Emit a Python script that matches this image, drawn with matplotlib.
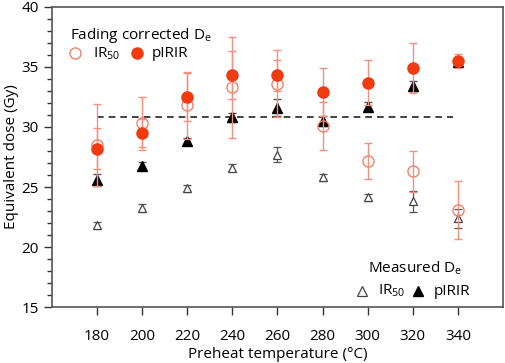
import matplotlib
matplotlib.use("Agg")
import matplotlib.pyplot as plt
from matplotlib.ticker import MultipleLocator

plt.rcParams['font.family'] = ['Open Sans', 'DejaVu Sans']
plt.rcParams['mathtext.default'] = 'regular'

temps = [180, 200, 220, 240, 260, 280, 300, 320, 340]
fc_ir50 = [28.5, 30.3, 31.8, 33.3, 33.6, 30.1, 27.2, 26.3, 23.1]
fc_ir50_err = [3.4, 2.2, 2.8, 4.2, 2.8, 2.0, 1.5, 1.7, 2.4]
fc_pirir = [28.2, 29.5, 32.5, 34.3, 34.3, 32.9, 33.7, 34.9, 35.5]
fc_pirir_err = [1.7, 1.2, 2.0, 2.0, 1.3, 2.0, 1.9, 2.1, 0.6]
m_ir50 = [21.8, 23.25, 24.9, 26.6, 27.7, 25.8, 24.15, 23.8, 22.4]
m_ir50_err = [0.3, 0.3, 0.3, 0.3, 0.6, 0.3, 0.3, 0.9, 0.8]
m_pirir = [25.6, 26.75, 28.8, 30.8, 31.6, 30.5, 31.7, 33.4, 35.4]
m_pirir_err = [0.5, 0.3, 0.3, 0.4, 0.7, 0.4, 0.4, 0.4, 0.3]
ref_dose = 30.8
ref_range = [180, 338]

red = '#F03A10'
salmon = '#F4806A'
ecol = '#F49080'

fig = plt.figure(figsize=(5.05, 3.63), dpi=100)
ax = fig.add_axes([0.103, 0.154, 0.893, 0.827])

ax.plot(ref_range, [ref_dose, ref_dose], ls=(0, (4, 3)), color='#222222', lw=1.2, zorder=1)

ax.errorbar(temps, m_ir50, yerr=m_ir50_err, fmt='^', mfc='white', mec='#444444', mew=0.9,
            ms=6, ecolor='#555555', elinewidth=0.9, capsize=3, zorder=2)
ax.errorbar(temps, m_pirir, yerr=m_pirir_err, fmt='^', mfc='black', mec='black',
            ms=6.5, ecolor='#555555', elinewidth=0.9, capsize=3, zorder=3)
ax.errorbar(temps, fc_ir50, yerr=fc_ir50_err, fmt='o', mfc='none', mec=salmon, mew=1.0,
            ms=8, ecolor=ecol, elinewidth=1.0, capsize=3, zorder=4)
ax.errorbar(temps, fc_pirir, yerr=fc_pirir_err, fmt='o', mfc=red, mec=red,
            ms=8, ecolor=ecol, elinewidth=1.0, capsize=3, zorder=5)

ax.set_xlim(160, 360)
ax.set_ylim(15, 40)
ax.set_xticks(temps)
ax.yaxis.set_major_locator(MultipleLocator(5))
ax.yaxis.set_minor_locator(MultipleLocator(1))
ax.tick_params(axis='both', which='major', direction='out', length=6, width=1, colors='#333333',
               labelsize=11, labelcolor='black')
ax.tick_params(axis='y', which='minor', direction='out', length=3.5, width=1, colors='#333333')
ax.tick_params(axis='x', pad=10)
for s in ax.spines.values():
    s.set_color('#555555')
    s.set_linewidth(1.2)

ax.set_xlabel('Preheat temperature (°C)', fontsize=11, labelpad=2)
ax.set_ylabel('Equivalent dose (Gy)', fontsize=11, labelpad=2)

# legend (top-left)
ax.text(0.04, 0.905, 'Fading corrected D$_{e}$', transform=ax.transAxes, fontsize=11, va='center')
ax.plot([0.051], [0.845], 'o', mfc='none', mec=salmon, ms=8, mew=1.0, transform=ax.transAxes)
ax.text(0.09, 0.845, 'IR$_{50}$', transform=ax.transAxes, fontsize=11, va='center')
ax.plot([0.188], [0.845], 'o', mfc=red, mec=red, ms=8, transform=ax.transAxes)
ax.text(0.222, 0.845, 'pIRIR', transform=ax.transAxes, fontsize=11, va='center')

# legend (bottom-right)
ax.text(0.70, 0.13, 'Measured D$_{e}$', transform=ax.transAxes, fontsize=11, va='center')
ax.plot([0.687], [0.053], '^', mfc='white', mec='#444444', ms=6.5, mew=0.9, transform=ax.transAxes)
ax.text(0.722, 0.053, 'IR$_{50}$', transform=ax.transAxes, fontsize=11, va='center')
ax.plot([0.812], [0.053], '^', mfc='black', mec='black', ms=6.5, transform=ax.transAxes)
ax.text(0.847, 0.053, 'pIRIR', transform=ax.transAxes, fontsize=11, va='center')

fig.savefig('out.png', dpi=100)
